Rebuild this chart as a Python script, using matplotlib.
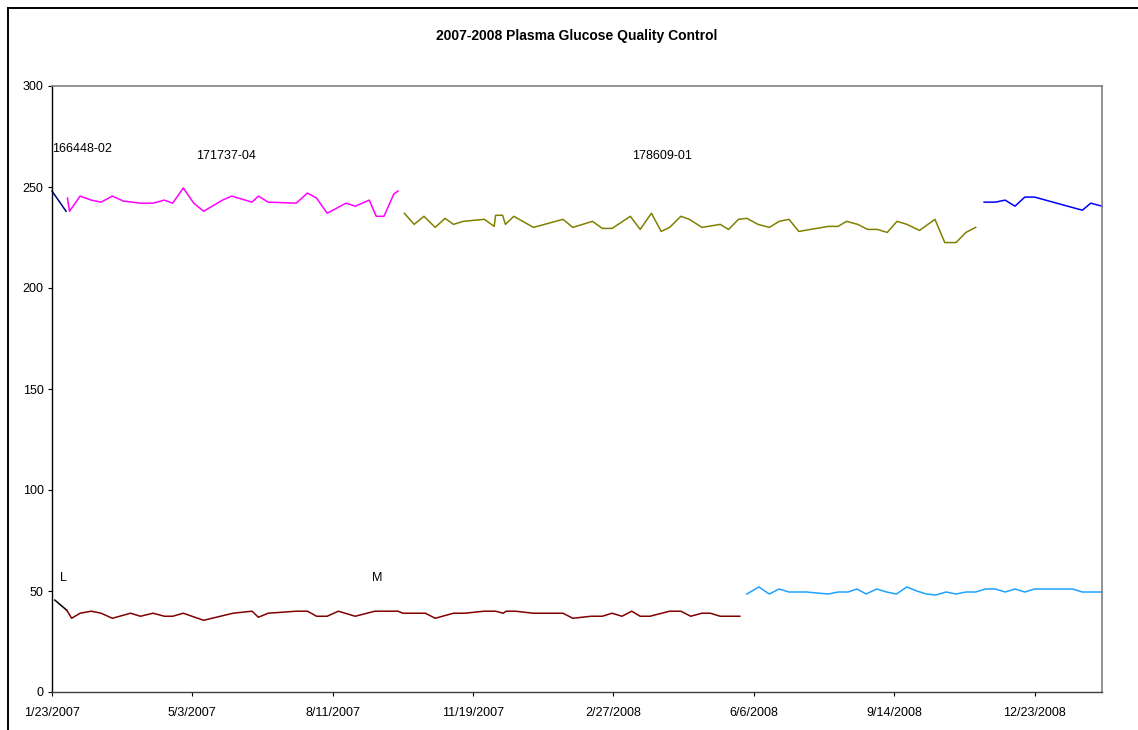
import datetime as dt
import matplotlib
matplotlib.use("Agg")
import matplotlib.pyplot as plt
import matplotlib.dates as mdates
from matplotlib.ticker import FuncFormatter, FixedLocator
import numpy as np

plt.rcParams['font.family'] = ['Liberation Sans', 'DejaVu Sans']

# days counted from 1/23/2007
START = dt.datetime(2007, 1, 23)

# upper level (~240)
navy_days = [0, 10]
navy_vals = [248, 238]

magenta_days = [11, 12.5, 20, 28, 35, 43, 51, 63, 72, 80,
                86, 93.5, 101, 108, 121.5, 128, 142.5, 147, 154, 174,
                182, 188.5, 196, 209.5, 216, 226, 231, 236.5, 243.5, 246.5]
magenta_vals = [244.5, 238, 245.5, 243.5, 242.5, 245.5, 243, 242, 242, 243.5,
                242, 249.5, 242, 238, 243.5, 245.5, 242.5, 245.5, 242.5, 242,
                247, 244.5, 237, 242, 240.5, 243.5, 235.5, 235.5, 246.5, 248]

olive_days = [251, 258, 265, 273, 280, 286, 293, 308, 315, 316,
              321, 323, 329, 343, 364, 371, 385, 392, 399, 412,
              419, 427, 434, 440, 448, 454, 463, 476, 482, 489,
              495, 503, 511, 518, 525, 532, 553, 560, 566, 574,
              581, 588, 595, 602, 609, 618, 622, 629, 636, 644,
              651, 658]
olive_vals = [237, 231.5, 235.5, 230, 234.5, 231.5, 233, 234, 230.5, 236,
              236, 231.5, 235.5, 230, 234, 230, 233, 229.5, 229.5, 235.5,
              229, 237, 228, 230, 235.5, 234, 230, 231.5, 229, 234,
              234.5, 231.5, 230, 233, 234, 228, 230.5, 230.5, 233, 231.5,
              229, 229, 227.5, 233, 231.5, 228.5, 230.5, 234, 222.5, 222.5,
              227.5, 230]

blue_days = [664, 672, 679, 686, 693, 700, 734, 740, 748]
blue_vals = [242.5, 242.5, 243.5, 240.5, 245, 245, 238.5, 242, 240.5]

# lower level (~40-50)
black_days = [2, 10.5]
black_vals = [45.5, 40.5]

maroon_days = [10.5, 14, 20, 28, 35, 43, 56, 63, 72, 80,
               86, 93.5, 108, 129, 142.5, 147, 154, 174, 182, 188.5,
               196, 204, 216, 230, 246.5, 250, 266, 273, 286, 294,
               308, 316, 321.5, 323.5, 330, 343, 364, 371, 384, 392,
               399, 406, 413, 419, 426, 440, 448, 455, 463, 469,
               476, 490]
maroon_vals = [40.5, 36.5, 39, 40, 39, 36.5, 39, 37.5, 39, 37.5,
               37.5, 39, 35.5, 39, 40, 37, 39, 40, 40, 37.5,
               37.5, 40, 37.5, 40, 40, 39, 39, 36.5, 39, 39,
               40, 40, 39, 40, 40, 39, 39, 36.5, 37.5, 37.5,
               39, 37.5, 40, 37.5, 37.5, 40, 40, 37.5, 39, 39,
               37.5, 37.5]

skyblue_days = [495, 503.5, 511, 518, 525, 537.5, 553, 560, 567, 573.5,
                580, 587.5, 594.5, 601.5, 609, 616, 623, 629.5, 637, 644,
                651, 658, 665, 672, 679, 686, 693, 700, 727, 734,
                748]
skyblue_vals = [48.5, 52, 48.5, 51, 49.5, 49.5, 48.5, 49.5, 49.5, 51,
                48.5, 51, 49.5, 48.5, 52, 50, 48.5, 48, 49.5, 48.5,
                49.5, 49.5, 51, 51, 49.5, 51, 49.5, 51, 51, 49.5,
                49.5]

# lot labels: (text, day, value)
labels = [("166448-02", 0, 269), ("171737-04", 102.5, 265.5),
          ("178609-01", 413, 265.5), ("L", 5.5, 56.5), ("M", 228, 56.5)]

tick_days = [0, 100, 200, 300, 400, 500, 600, 700]
x_end_day = 748

base = mdates.date2num(START)


def X(days):
    return base + np.asarray(days, dtype=float)


fig = plt.figure(figsize=(11.38, 7.30), dpi=100)
ax = fig.add_axes([52 / 1138, 1 - 692 / 730, 1050 / 1138, 606 / 730])

series = [
    (navy_days, navy_vals, '#000080'),
    (magenta_days, magenta_vals, '#FF00FF'),
    (olive_days, olive_vals, '#808000'),
    (blue_days, blue_vals, '#0000FF'),
    (black_days, black_vals, '#000000'),
    (maroon_days, maroon_vals, '#800000'),
    (skyblue_days, skyblue_vals, '#1FA2FF'),
]
for d, v, c in series:
    ax.plot(X(d), v, color=c, lw=1.1, clip_on=False)

for txt, d, v in labels:
    ax.text(X([d])[0], v, txt, fontsize=9, ha='left', va='center')

ax.set_xlim(base, base + x_end_day)
ax.set_ylim(0, 300)
ax.set_yticks(range(0, 301, 50))
ax.xaxis.set_major_locator(FixedLocator(X(tick_days)))
ax.xaxis.set_major_formatter(FuncFormatter(
    lambda x, pos: "{d.month}/{d.day}/{d.year}".format(d=mdates.num2date(x))))

ax.tick_params(axis='both', direction='out', length=3, width=0.8,
               labelsize=9)
ax.tick_params(axis='x', pad=8)
ax.tick_params(axis='y', pad=3)
for s in ['top', 'right']:
    ax.spines[s].set_color('#808080')
    ax.spines[s].set_linewidth(1.2)
for s in ['left', 'bottom']:
    ax.spines[s].set_color('#000000')
    ax.spines[s].set_linewidth(1.0)
ax.spines['bottom'].set_color('#404040')

fig.text(577 / 1138, 1 - 36 / 730, "2007-2008 Plasma Glucose Quality Control",
         ha='center', va='center', fontsize=10, fontweight='bold')

# chart-area border (only left and top visible in the crop)
fig.add_artist(plt.Line2D([7.5 / 1138, 7.5 / 1138], [0, 1 - 8 / 730],
                          color='black', lw=1.4, transform=fig.transFigure))
fig.add_artist(plt.Line2D([7.5 / 1138, 1], [1 - 8 / 730, 1 - 8 / 730],
                          color='black', lw=1.4, transform=fig.transFigure))

fig.savefig("out.png", dpi=100)
